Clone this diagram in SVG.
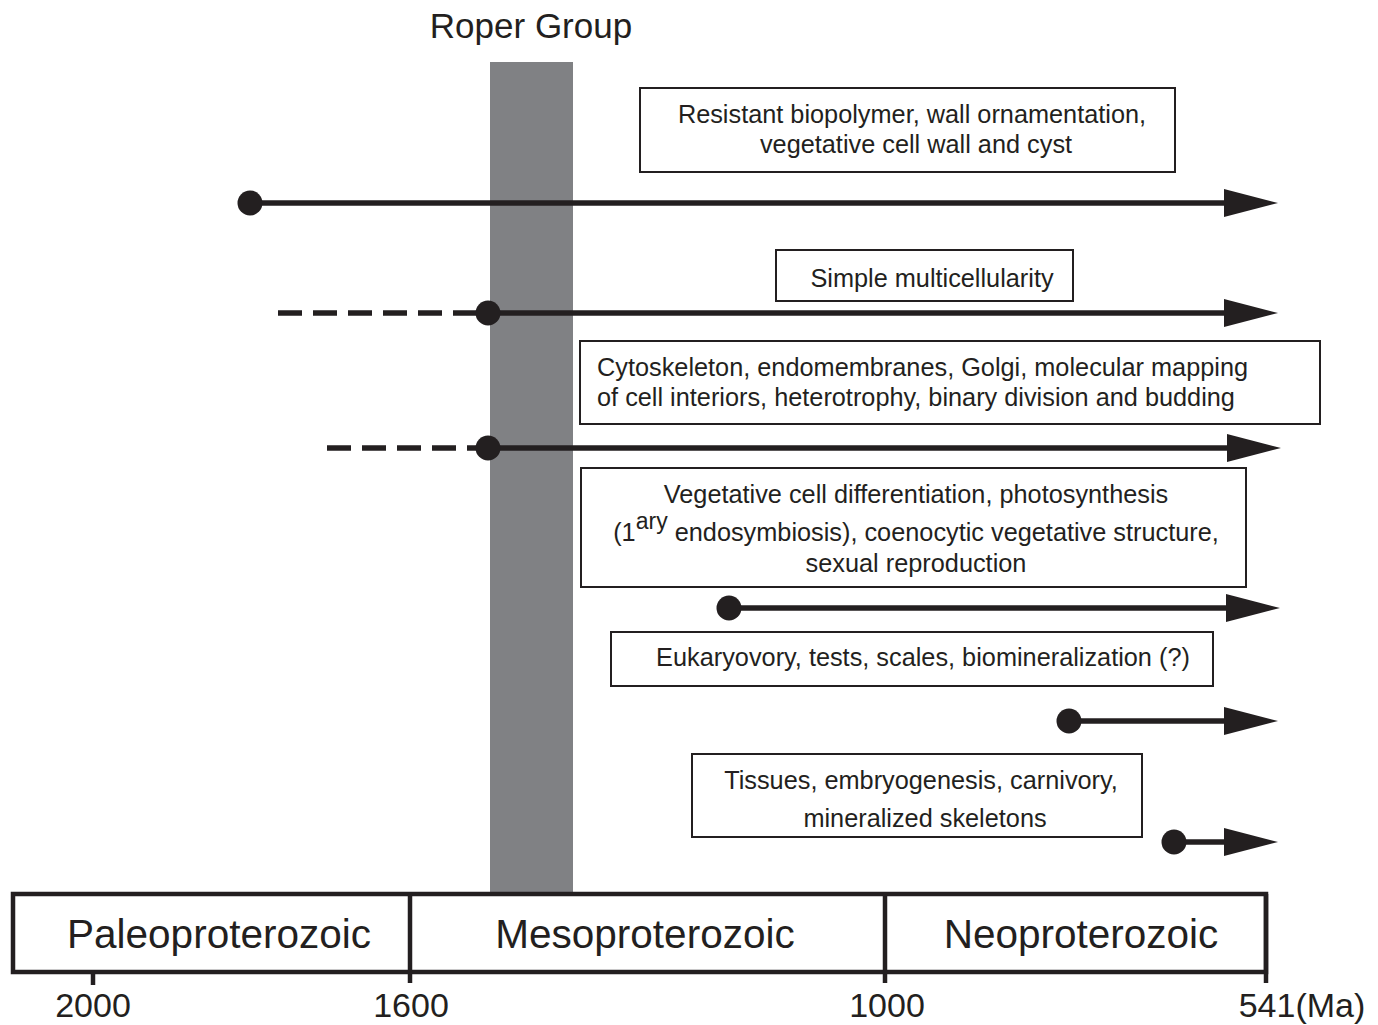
<svg xmlns="http://www.w3.org/2000/svg" width="1378" height="1025" viewBox="0 0 1378 1025">
<style>
text{font-family:"Liberation Sans",Arial,sans-serif;fill:#231f20}
.b{font-size:25.3px}
.box{fill:#fff;stroke:#231f20;stroke-width:2}
.ln{stroke:#231f20;stroke-width:5.5;fill:none}
.dash{stroke:#231f20;stroke-width:5.5;stroke-dasharray:24 11;fill:none}
.dot{fill:#231f20}
.ah{fill:#231f20}
.era{font-size:40.5px}
.tk{font-size:34px}
</style>
<rect id="roper-band" x="490" y="62" width="83" height="831" fill="#808184"/>
<text x="531" y="38" font-size="35" text-anchor="middle">Roper Group</text>

<g id="connectors">
  <line class="ln" x1="250" y1="203" x2="1226" y2="203"/>
  <polygon class="ah" points="1224,189 1278,203 1224,217"/>
  <line class="dash" x1="278" y1="313" x2="478" y2="313"/>
  <line class="ln" x1="488" y1="313" x2="1226" y2="313"/>
  <polygon class="ah" points="1224,299 1278,313 1224,327"/>
  <line class="dash" x1="327" y1="448" x2="478" y2="448"/>
  <line class="ln" x1="488" y1="448" x2="1229" y2="448"/>
  <polygon class="ah" points="1227,434 1281,448 1227,462"/>
  <line class="ln" x1="729" y1="608" x2="1228" y2="608"/>
  <polygon class="ah" points="1226,594 1280,608 1226,622"/>
  <line class="ln" x1="1069" y1="721" x2="1226" y2="721"/>
  <polygon class="ah" points="1224,707 1278,721 1224,735"/>
  <line class="ln" x1="1174" y1="842" x2="1226" y2="842"/>
  <polygon class="ah" points="1224,828 1278,842 1224,856"/>
  <circle class="dot" cx="250" cy="203" r="12.5"/>
  <circle class="dot" cx="488" cy="313" r="12.5"/>
  <circle class="dot" cx="488" cy="448" r="12.5"/>
  <circle class="dot" cx="729" cy="608" r="12.5"/>
  <circle class="dot" cx="1069" cy="721" r="12.5"/>
  <circle class="dot" cx="1174" cy="842" r="12.5"/>
</g>

<g id="box1">
  <rect class="box" x="640" y="88" width="535" height="84"/>
  <text class="b" x="912" y="123" text-anchor="middle">Resistant biopolymer, wall ornamentation,</text>
  <text class="b" x="916" y="153" text-anchor="middle">vegetative cell wall and cyst</text>
</g>
<g id="box2">
  <rect class="box" x="776" y="250" width="297" height="51"/>
  <text class="b" x="932" y="287" text-anchor="middle">Simple multicellularity</text>
</g>
<g id="box3">
  <rect class="box" x="580" y="341" width="740" height="83"/>
  <text class="b" x="597" y="376">Cytoskeleton, endomembranes, Golgi, molecular mapping</text>
  <text class="b" x="597" y="406">of cell interiors, heterotrophy, binary division and budding</text>
</g>
<g id="box4">
  <rect class="box" x="581" y="468" width="665" height="119"/>
  <text class="b" x="916" y="503" text-anchor="middle">Vegetative cell differentiation, photosynthesis</text>
  <text class="b" x="916" y="541" text-anchor="middle">(1<tspan dy="-12" font-size="23">ary</tspan><tspan dy="12"> endosymbiosis), coenocytic vegetative structure,</tspan></text>
  <text class="b" x="916" y="572" text-anchor="middle">sexual reproduction</text>
</g>
<g id="box5">
  <rect class="box" x="611" y="632" width="602" height="54"/>
  <text class="b" x="923" y="666" text-anchor="middle">Eukaryovory, tests, scales, biomineralization (?)</text>
</g>
<g id="box6">
  <rect class="box" x="692" y="754" width="450" height="83"/>
  <text class="b" x="921" y="789" text-anchor="middle">Tissues, embryogenesis, carnivory,</text>
  <text class="b" x="925" y="827" text-anchor="middle">mineralized skeletons</text>
</g>

<g id="timescale">
  <rect x="13" y="894" width="1253" height="78" fill="none" stroke="#231f20" stroke-width="4.5"/>
  <line x1="410" y1="894" x2="410" y2="983" stroke="#231f20" stroke-width="4.5"/>
  <line x1="885" y1="894" x2="885" y2="983" stroke="#231f20" stroke-width="4.5"/>
  <line x1="1266" y1="894" x2="1266" y2="983" stroke="#231f20" stroke-width="4.5"/>
  <line x1="93" y1="972" x2="93" y2="985" stroke="#231f20" stroke-width="4.5"/>
  <text class="era" x="219" y="948" text-anchor="middle">Paleoproterozoic</text>
  <text class="era" x="645" y="948" text-anchor="middle">Mesoproterozoic</text>
  <text class="era" x="1081" y="948" text-anchor="middle">Neoproterozoic</text>
  <text class="tk" x="93" y="1017" text-anchor="middle">2000</text>
  <text class="tk" x="411" y="1017" text-anchor="middle">1600</text>
  <text class="tk" x="887" y="1017" text-anchor="middle">1000</text>
  <text class="tk" x="1302" y="1017" text-anchor="middle">541(Ma)</text>
</g>
</svg>
